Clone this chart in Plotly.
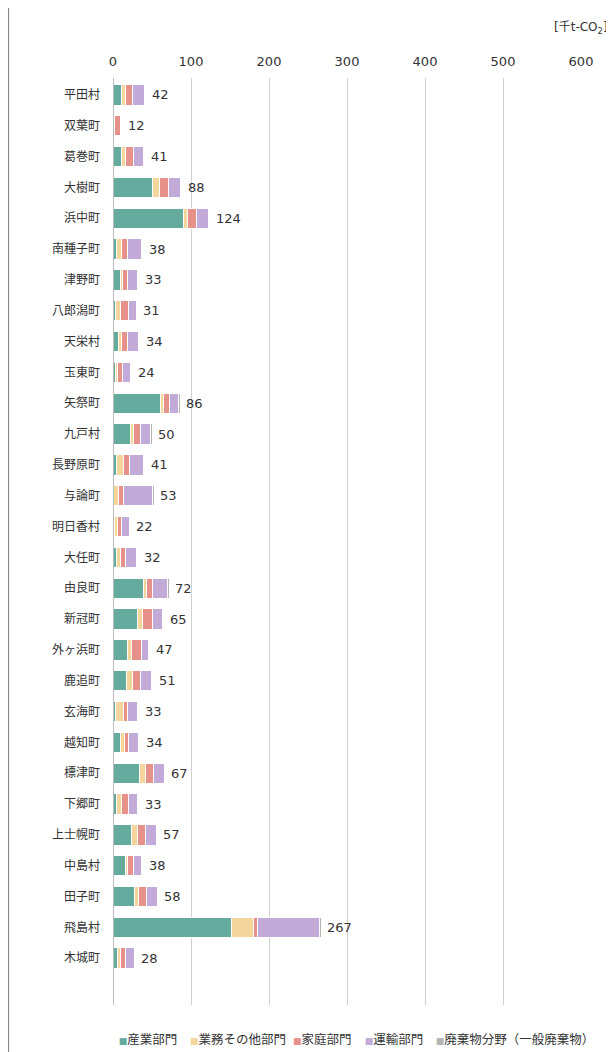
import plotly.graph_objects as go

categories = ["平田村", "双葉町", "葛巻町", "大樹町", "浜中町", "南種子町", "津野町", "八郎潟町",
              "天栄村", "玉東町", "矢祭町", "九戸村", "長野原町", "与論町", "明日香村", "大任町",
              "由良町", "新冠町", "外ヶ浜町", "鹿追町", "玄海町", "越知町", "標津町", "下郷町",
              "上士幌町", "中島村", "田子町", "飛島村", "木城町"]

industry = [11.5, 0.3, 11.5, 50, 90, 4, 9.5, 3.5, 7, 3, 61, 22, 4, 1, 1.5, 4.5,
            39, 31, 18, 17, 3, 9.5, 34, 5, 24, 16, 28, 152.5, 5.5]
business = [5, 1.2, 5, 9, 6, 7, 3, 6, 4, 3, 4, 4, 9, 6.5, 4.5, 5.5,
            4.5, 6.5, 6, 7.5, 10, 5.5, 7.5, 6.5, 7, 3, 4.5, 27.5, 4]
household = [8, 7.5, 10, 12, 11, 7, 6, 10, 7.5, 6, 8, 9, 8, 6.5, 5.5, 6,
             7.5, 12.5, 12.5, 10.5, 5.5, 5.5, 10, 8, 11, 7, 10.5, 5, 6.5]
transport = [16.5, 2.5, 13, 15, 16, 18, 13.5, 10.5, 14, 11, 11, 13, 18, 37, 9.5, 14,
             19, 13, 9, 14.5, 13.5, 12.5, 14, 11.5, 14, 10.5, 14, 80, 11]
waste = [1, 0.5, 1.5, 2, 1, 2, 1, 1, 1.5, 1, 2, 2, 2, 2, 1, 2,
         2, 2, 1.5, 1.5, 1, 1, 1.5, 2, 1, 1.5, 1, 2, 1]

series_names = ["産業部門", "業務その他部門", "家庭部門", "運輸部門", "廃棄物分野（一般廃棄物）"]
series_values = [industry, business, household, transport, waste]
colors = ["#65ab9d", "#f4d59c", "#e6918a", "#c2abd9", "#b4b4b4"]

x_ticks = [0, 100, 200, 300, 400, 500, 600]
unit_label = "[千t-CO<sub>2</sub>]"

totals = [sum(v) for v in zip(*series_values)]
total_labels = [f"{round(t):d}" for t in totals]

FONT = "DejaVu Sans, Noto Sans CJK JP, sans-serif"
W, H = 606, 1044
legend_x = [0.1167, 0.2343, 0.4043, 0.5226, 0.6398]

fig = go.Figure()
legend_layouts = {}
for i, (name, vals, col) in enumerate(zip(series_names, series_values, colors)):
    lg = "legend" if i == 0 else f"legend{i + 1}"
    grp = f"g{i}"
    fig.add_trace(go.Bar(
        y=categories, x=vals, name=name, orientation="h", legendgroup=grp, showlegend=False,
        marker=dict(color=col, line=dict(color="white", width=1)),
    ))
    # legend entry: coloured square glyph right before the series name
    fig.add_trace(go.Scatter(
        x=[None], y=[None], mode="markers",
        marker=dict(color="rgba(0,0,0,0)", size=1, line=dict(width=0, color="rgba(0,0,0,0)")),
        name=f'<span style="color:{col};font-size:9px">■</span>{name}',
        legend=lg, legendgroup=grp, showlegend=True, hoverinfo="skip",
    ))
    legend_layouts[lg] = dict(orientation="h", xref="container", x=legend_x[i], xanchor="left",
                              yref="container", y=0.0115, yanchor="middle",
                              font=dict(size=12.5, color="#333333", family=FONT),
                              itemwidth=30, bgcolor="rgba(0,0,0,0)")

annotations = [
    dict(x=t, y=c, text=lab, xref="x", yref="y", xanchor="left", yanchor="middle",
         xshift=4, showarrow=False, font=dict(size=13, color="#333333", family=FONT))
    for t, c, lab in zip(totals, categories, total_labels)
]
annotations.append(dict(text=unit_label, xref="paper", yref="paper", x=1.062, y=1.054,
                        xanchor="right", yanchor="middle", showarrow=False,
                        font=dict(size=12, color="#333333", family=FONT)))

fig.update_layout(
    barmode="stack",
    bargap=0.34,
    width=W, height=H,
    margin=dict(l=105, r=33, t=70, b=47, autoexpand=False),
    paper_bgcolor="white", plot_bgcolor="white",
    font=dict(family=FONT, size=12, color="#333333"),
    showlegend=True,
    xaxis=dict(side="top", range=[0, 600], tickvals=x_ticks, ticktext=[str(t) for t in x_ticks],
               showgrid=True, gridcolor="#d0d0d0", gridwidth=1.2, zeroline=False, automargin=False,
               showline=False, ticks="", tickfont=dict(size=13, color="#333333"), ticklabelstandoff=8),
    yaxis=dict(categoryorder="array", categoryarray=categories, range=[29.52, -0.55],
               showgrid=False, zeroline=False, showline=False, ticks="", automargin=False,
               tickfont=dict(size=12, color="#333333"), ticklabelstandoff=12),
    shapes=[
        dict(type="line", xref="x", yref="paper", x0=0, x1=0, y0=0, y1=1,
             line=dict(color="#a8a8a8", width=1.5), layer="above"),
        dict(type="line", xref="paper", yref="paper", x0=-0.2233, x1=-0.2233, y0=-0.06, y1=1.09,
             line=dict(color="#8a8a8a", width=1.2)),
    ],
    annotations=annotations,
    **legend_layouts,
)

fig.write_html("out.html")
